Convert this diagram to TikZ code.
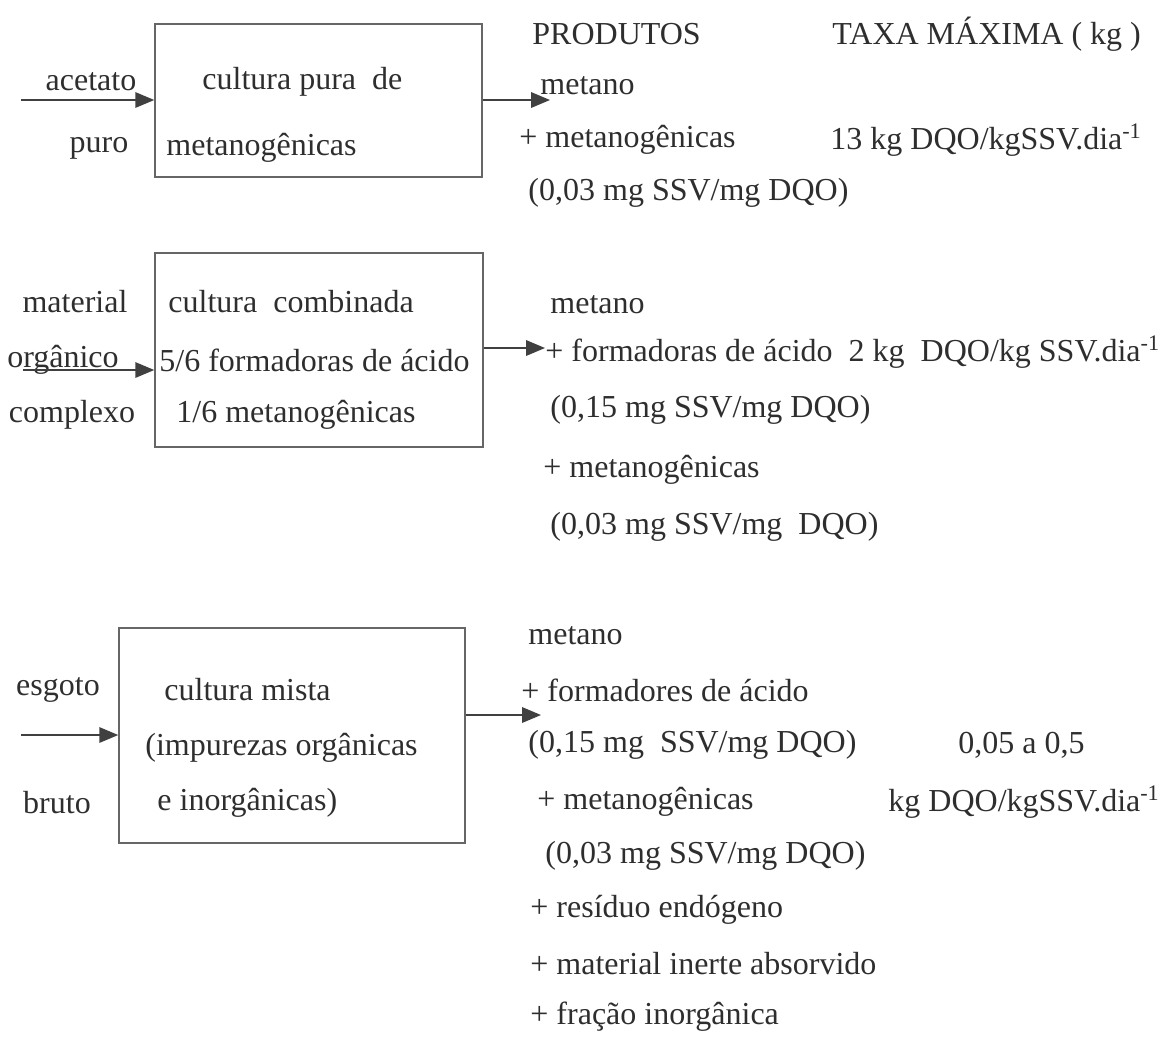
\documentclass[tikz,border=0pt]{standalone}
\usepackage{fontspec}
\setmainfont{Liberation Serif}
\usetikzlibrary{arrows.meta, fit}

\begin{document}
\begin{tikzpicture}[
    x=0.45pt, y=-0.45pt,
    caixa/.style={draw=black!60, line width=0.7pt, inner sep=0pt},
    texto/.style={anchor=west, inner sep=0pt, text=black!82, font=\fontsize{14.4}{17}\selectfont},
    seta/.style={-{Triangle[length=8.5pt, width=7pt]}, draw=black!75, line width=0.6pt}
]
\useasboundingbox (0,0) rectangle (1164,1036);

% cabecalho
\node[texto] (produtos) at (532,34) {PRODUTOS};
\node[texto] (taxa) at (832,34) {TAXA MÁXIMA ( kg )};

% cultura pura
\node[caixa, fit={(155,24) (482,177)}] (caixa1) {};
\node[texto, anchor=center] (acetato) at (91,82) {acetato};
\node[texto, anchor=center] (puro) at (99,148) {puro};
\node[texto] (pura) at (202,82) {cultura pura\ \ de};
\node[texto] (metanog1) at (166,148) {metanogênicas};
\node[texto] (metano1) at (540,86) {metano};
\node[texto] (maismet1) at (519,140) {+ metanogênicas};
\node[texto] (taxa1) at (830,140) {13 kg DQO/kgSSV.dia\textsuperscript{-1}};
\node[texto] (ssv1) at (528,193) {(0,03 mg SSV/mg DQO)};
\coordinate (ent1) at (21,100);
\coordinate (sai1) at (550,100);
\draw[seta] (ent1) -- (ent1 -| caixa1.west);
\draw[seta] (caixa1.east |- sai1) -- (sai1);

% cultura combinada
\node[caixa, fit={(155,253) (483,447)}] (caixa2) {};
\node[texto, anchor=center] (material) at (75,302) {material};
\node[texto, anchor=center] (organico) at (63,360) {orgânico};
\node[texto, anchor=center] (complexo) at (72,415) {complexo};
\node[texto] (combinada) at (168,302) {cultura\ \ combinada};
\node[texto] (formadoras) at (159,360) {5/6 formadoras de ácido};
\node[texto] (metanog2) at (176,415) {1/6 metanogênicas};
\node[texto] (metano2) at (550,305) {metano};
\node[texto] (maisform2) at (545,352) {+ formadoras de ácido\ \ 2 kg\ \ DQO/kg SSV.dia\textsuperscript{-1}};
\node[texto] (ssv2a) at (550,410) {(0,15 mg SSV/mg DQO)};
\node[texto] (maismet2) at (543,470) {+ metanogênicas};
\node[texto] (ssv2b) at (550,527) {(0,03 mg SSV/mg\ \ DQO)};
\coordinate (ent2) at (23,370);
\coordinate (sai2) at (545,348);
\draw[seta] (ent2) -- (ent2 -| caixa2.west);
\draw[seta] (caixa2.east |- sai2) -- (sai2);

% cultura mista
\node[caixa, fit={(119,628) (465,843)}] (caixa3) {};
\node[texto, anchor=center] (esgoto) at (58,690) {esgoto};
\node[texto, anchor=center] (bruto) at (57,803) {bruto};
\node[texto] (mista) at (164,690) {cultura mista};
\node[texto] (impurezas) at (145,748) {(impurezas orgânicas};
\node[texto] (inorg) at (157,803) {e inorgânicas)};
\node[texto] (metano3) at (528,636) {metano};
\node[texto] (maisform3) at (521,690) {+ formadores de ácido};
\node[texto] (ssv3a) at (528,745) {(0,15 mg\ \ SSV/mg DQO)};
\node[texto] (taxa3a) at (958,745) {0,05 a 0,5};
\node[texto] (maismet3) at (537,802) {+ metanogênicas};
\node[texto] (taxa3b) at (888,802) {kg DQO/kgSSV.dia\textsuperscript{-1}};
\node[texto] (ssv3b) at (545,856) {(0,03 mg SSV/mg DQO)};
\node[texto] (residuo) at (530,910) {+ resíduo endógeno};
\node[texto] (inerte) at (530,964) {+ material inerte absorvido};
\node[texto] (fracao) at (530,1017) {+ fração inorgânica};
\coordinate (ent3) at (21,735);
\coordinate (sai3) at (541,715);
\draw[seta] (ent3) -- (ent3 -| caixa3.west);
\draw[seta] (caixa3.east |- sai3) -- (sai3);
\end{tikzpicture}
\end{document}
